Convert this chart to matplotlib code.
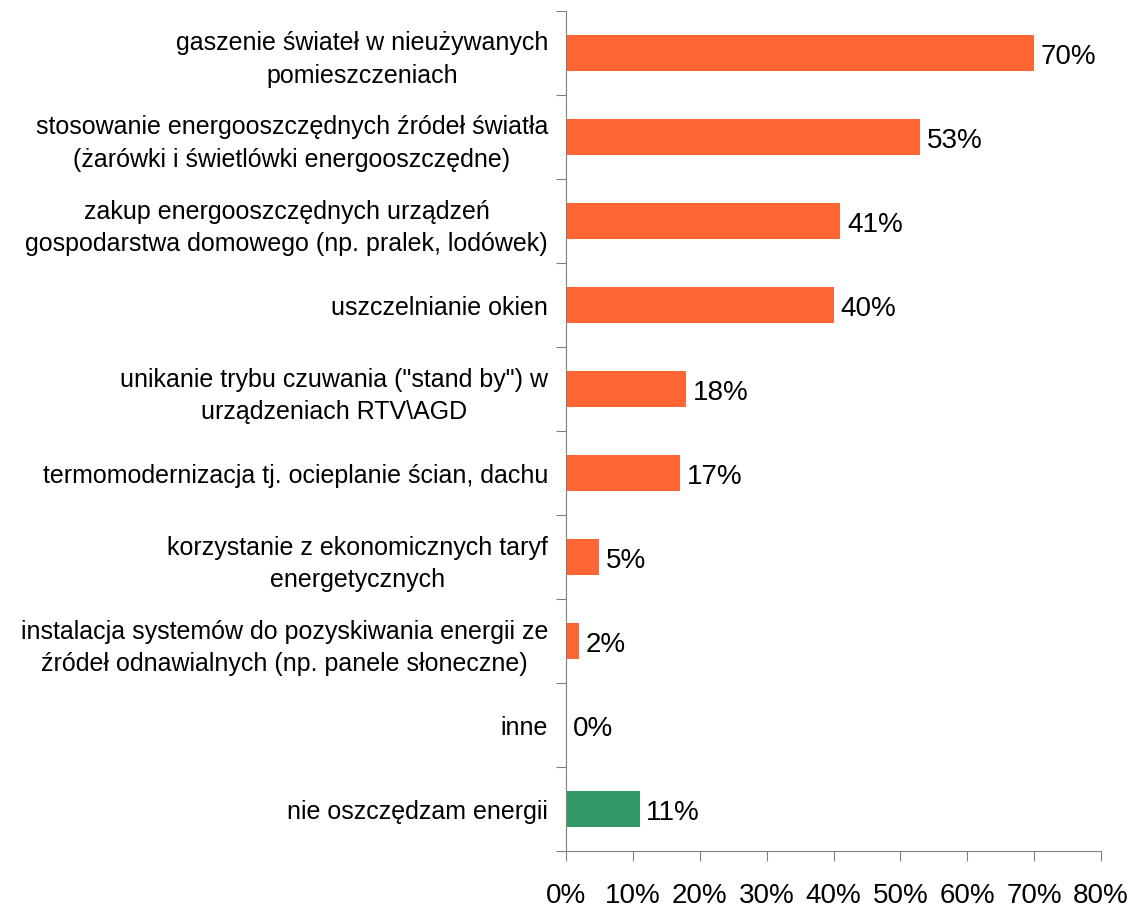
import matplotlib
matplotlib.use("Agg")
import matplotlib.pyplot as plt
from matplotlib.ticker import PercentFormatter

# categories top to bottom
categories = [
    "gaszenie świateł w nieużywanych\npomieszczeniach",
    "stosowanie energooszczędnych źródeł światła\n(żarówki i świetlówki energooszczędne)",
    "zakup energooszczędnych urządzeń\ngospodarstwa domowego (np. pralek, lodówek)",
    "uszczelnianie okien",
    "unikanie trybu czuwania (\"stand by\") w\nurządzeniach RTV\\AGD",
    "termomodernizacja tj. ocieplanie ścian, dachu",
    "korzystanie z ekonomicznych taryf\nenergetycznych",
    "instalacja systemów do pozyskiwania energii ze\nźródeł odnawialnych (np. panele słoneczne)",
    "inne",
    "nie oszczędzam energii",
]
values = [70, 53, 41, 40, 18, 17, 5, 2, 0, 11]
colors = ["#FF6633"] * 9 + ["#339966"]

plt.rcParams['font.family'] = ['Liberation Sans', 'DejaVu Sans']

fig = plt.figure(figsize=(11.33, 9.09), dpi=100)
ax = fig.add_axes([0.4996, 0.0638, 0.9718 - 0.4996, 0.9879 - 0.0638])

n = len(categories)
pos = list(range(n))
ax.barh(pos, values, height=0.42, color=colors)
ax.set_ylim(n - 0.5, -0.5)
ax.set_xlim(0, 80)

for p, v in zip(pos, values):
    ax.text(v + 1.0, p + 0.05, f"{v}%", va="center", ha="left", fontsize=20)

# category labels as minor ticks, tick marks between categories
ax.set_yticks([p - 0.5 for p in pos] + [n - 0.5])
ax.set_yticklabels([])
ax.set_yticks(pos, minor=True)
ax.set_yticklabels(categories, minor=True, fontsize=18, linespacing=1.47)
for lab in ax.get_yticklabels(minor=True):
    lab.set_multialignment("center")
ax.tick_params(axis="y", which="minor", length=0, pad=13)
ax.tick_params(axis="y", which="major", length=7, color="#808080")

ax.set_xticks(range(0, 81, 10))
ax.xaxis.set_major_formatter(PercentFormatter(decimals=0))
ax.tick_params(axis="x", length=7, color="#808080", labelsize=20, pad=16)

for s in ("top", "right"):
    ax.spines[s].set_visible(False)
for s in ("left", "bottom"):
    ax.spines[s].set_color("#808080")

fig.savefig("out.png", dpi=100)
